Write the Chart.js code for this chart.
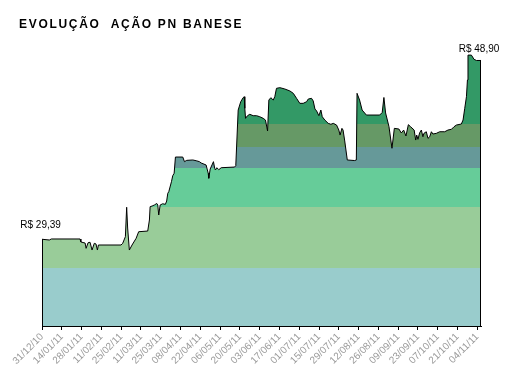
<!DOCTYPE html>
<html><head><meta charset="utf-8">
<script src="https://cdn.jsdelivr.net/npm/chart.js@4/dist/chart.umd.min.js"></script>
<style>html,body{margin:0;padding:0;background:#fff;}#wrap{width:531px;height:388px;position:relative}</style>
</head><body><div id="wrap"><canvas id="c"></canvas></div>
<script>
const chartTitle = 'EVOLUÇÃO  AÇÃO PN BANESE';
const tickLabels = ['31/12/10','14/01/11','28/01/11','11/02/11','25/02/11','11/03/11','25/03/11','08/04/11','22/04/11','06/05/11','20/05/11','03/06/11','17/06/11','01/07/11','15/07/11','29/07/11','12/08/11','26/08/11','09/09/11','23/09/11','07/10/11','21/10/11','04/11/11'];
const tickStepDays = 14;
// days since 31/12/10
const days = [0,5.2,6.6,26.9,27.5,30.5,31.2,32.6,34.0,35.4,37.0,38.2,39.2,39.9,55.9,57.1,59.0,59.9,60.6,61.8,63.7,66.6,68.4,74.8,76.0,76.5,77.9,79.5,81.2,81.9,82.6,83.6,85.4,87.3,88.2,89.0,89.7,91.6,92.5,93.5,94.4,99.6,100.8,102.4,106.7,109.1,111.4,112.6,116.1,117.6,118.0,119.0,121.3,122.2,122.7,123.7,125.1,126.8,136.2,137.1,138.8,140.6,142.3,143.1,143.5,144.0,145.4,147.0,149.4,151.8,154.1,156.5,158.1,159.6,160.5,161.9,163.6,164.7,165.9,168.3,171.8,175.4,177.8,180.1,182.4,184.8,187.2,188.4,190.7,191.9,193.1,194.3,195.9,197.3,198.3,200.1,202.5,204.4,206.1,208.4,210.0,210.9,212.2,213.0,214.1,216.0,221.2,222.4,222.9,224.7,226.5,229.5,238.9,240.7,241.9,243.1,245.5,247.6,249.3,252.5,254.2,255.9,257.5,259.2,260.8,263.3,264.4,265.1,266.0,267.2,268.4,269.5,270.2,271.9,273.1,274.3,275.5,276.6,279.0,281.4,284.9,287.2,289.7,291.5,293.2,296.7,297.9,299.1,300.3,301.0,301.4,303.8,305.7,307.4,310.6];
const prices = [29.39,29.31,29.42,29.42,29.10,28.99,28.43,29.02,29.07,28.25,28.96,28.89,28.25,28.78,28.78,28.96,29.66,32.78,30.58,28.25,28.78,29.49,30.19,30.26,31.43,32.84,32.91,33.02,33.18,33.02,31.96,33.02,33.15,33.09,33.44,34.26,34.43,35.49,36.12,36.38,38.10,38.10,37.61,37.75,37.79,37.71,37.61,37.47,37.26,36.38,35.85,36.83,37.61,36.91,36.73,36.97,36.76,36.97,37.04,37.18,43.08,43.96,44.39,44.49,43.26,42.20,42.48,42.63,42.48,42.48,42.37,42.20,42.02,40.86,44.14,44.39,44.14,44.49,45.38,45.45,45.31,45.10,44.85,44.32,43.79,43.79,43.96,44.25,44.32,44.04,43.19,42.98,42.48,43.08,42.37,42.02,41.67,41.57,41.67,41.49,40.96,40.43,41.14,40.96,39.90,37.79,37.73,37.79,44.85,44.14,43.08,42.55,42.55,42.82,44.41,42.77,41.31,39.03,41.14,41.07,40.65,40.96,40.33,41.53,41.31,40.96,39.90,40.43,39.98,40.68,40.96,40.25,40.61,40.78,40.08,40.25,40.78,40.54,40.61,40.78,40.78,40.96,41.04,41.31,41.49,41.60,42.02,43.26,44.49,46.26,48.90,48.90,48.45,48.33,48.33];
const bandEdges = [26.34, 32.81, 36.94, 39.16, 41.65];
const bandColors = ['#99CCCC','#99CC99','#66CC99','#669999','#669966','#339966'];
const yMin = 20.2, yMax = 50.5;

function bandFill(c){
  const chart = c.chart; const area = chart.chartArea;
  if (!area) return bandColors[0];
  const y = chart.scales.y;
  const g = chart.ctx.createLinearGradient(0, area.bottom, 0, area.top);
  const h = area.bottom - area.top;
  let prev = 0;
  bandColors.forEach((col, i) => {
    const end = i < bandEdges.length ? (area.bottom - y.getPixelForValue(bandEdges[i])) / h : 1;
    g.addColorStop(Math.max(0,Math.min(1,prev)), col);
    g.addColorStop(Math.max(0,Math.min(1,end)), col);
    prev = end;
  });
  return g;
}

const titlePlugin = {
  id: 'spacedTitle',
  afterDraw(chart){
    const ctx = chart.ctx; ctx.save();
    ctx.font = 'bold 12px "Liberation Sans", Arial, sans-serif';
    ctx.fillStyle = '#000'; ctx.textAlign = 'left'; ctx.textBaseline = 'alphabetic';
    try { ctx.letterSpacing = '1.7px'; } catch(e) {}
    ctx.fillText(chartTitle, 19, 28);
    ctx.restore();
  }
};
const edgePlugin = {
  id: 'edges',
  afterDatasetsDraw(chart){
    const {ctx, scales:{x, y}, chartArea} = chart;
    ctx.save(); ctx.strokeStyle = '#000'; ctx.lineWidth = 1;
    [0, days.length - 1].forEach(i => {
      const px = Math.round(x.getPixelForValue(days[i])) + (i === 0 ? 0.5 : -0.5);
      ctx.beginPath(); ctx.moveTo(px, y.getPixelForValue(prices[i])); ctx.lineTo(px, chartArea.bottom); ctx.stroke();
    });
    const fmt = v => 'R$ ' + v.toFixed(2).replace('.', ',');
    ctx.font = '10px "Liberation Sans", Arial, sans-serif'; ctx.fillStyle = '#000'; ctx.textAlign = 'center';
    const im = prices.indexOf(Math.max(...prices));
    ctx.fillText(fmt(prices[0]), x.getPixelForValue(days[0]) - 1.4, y.getPixelForValue(prices[0]) - 11);
    ctx.fillText(fmt(prices[im]), x.getPixelForValue(days[im]) + 11, y.getPixelForValue(prices[im]) - 2.7);
    ctx.restore();
  }
};

new Chart(document.getElementById('c'), {
  type: 'line',
  data: { datasets: [{
    data: days.map((d, i) => ({x: d, y: prices[i]})),
    borderColor: '#000', borderWidth: 1, pointRadius: 0, tension: 0,
    fill: 'start', backgroundColor: bandFill
  }]},
  options: {
    responsive: true, maintainAspectRatio: false, animation: false,
    layout: { padding: { left: 42, right: 50, top: 40, bottom: 0 } },
    plugins: { legend: { display: false }, tooltip: { enabled: false } },
    scales: {
      x: {
        type: 'linear', min: 0, max: days[days.length - 1],
        afterBuildTicks: s => { s.ticks = tickLabels.map((l, i) => ({ value: i * tickStepDays })); },
        afterFit: s => { s.height = 62; },
        ticks: { autoSkip: false, minRotation: 45, maxRotation: 45, color: '#9a9a9a', padding: 1,
          font: { family: '"Liberation Sans", Arial, sans-serif', size: 10 },
          callback: v => tickLabels[Math.round(v / tickStepDays)] },
        grid: { drawOnChartArea: false, tickLength: 4, color: '#000' },
        border: { color: '#000', width: 1 }
      },
      y: { display: false, min: yMin, max: yMax }
    }
  },
  plugins: [titlePlugin, edgePlugin]
});
</script></body></html>
